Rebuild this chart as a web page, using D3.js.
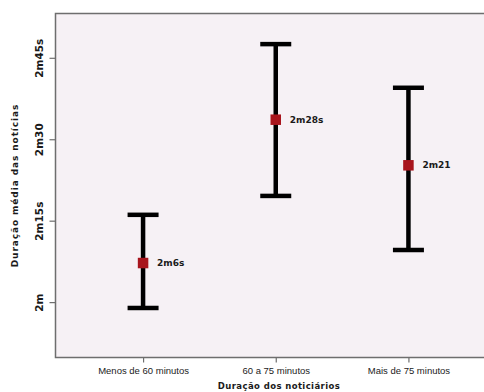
<!DOCTYPE html>
<html>
<head>
<meta charset="utf-8">
<script src="https://cdn.jsdelivr.net/npm/d3@7/dist/d3.min.js"></script>
<style>
  html, body { margin: 0; padding: 0; background: #ffffff; }
  svg { display: block; }
</style>
</head>
<body>
<script>
// Average news-item duration (seconds) by newscast length, with error bars
const categories = ["Menos de 60 minutos", "60 a 75 minutos", "Mais de 75 minutos"];
const means = [126, 148, 141];
const lower = [119.1, 136.3, 128.0];
const upper = [133.4, 159.6, 152.9];
const meanLabels = ["2m6s", "2m28s", "2m21"];
const yTickValues = [120, 132.5, 145, 157.5];
const yTickLabels = ["2m", "2m15s", "2m30", "2m45s"];

const W = 484, H = 392;
const plot = { left: 55.5, top: 13.5, right: 496, bottom: 357.5 };

const svg = d3.select("body").append("svg")
  .attr("width", W).attr("height", H);

const x = d3.scalePoint()
  .domain(categories)
  .range([plot.left, plot.right])
  .padding(0.66);

const y = d3.scaleLinear()
  .domain([111.5, 164.3])
  .range([plot.bottom, plot.top]);

// plot background and frame
svg.append("rect")
  .attr("x", plot.left).attr("y", plot.top)
  .attr("width", plot.right - plot.left).attr("height", plot.bottom - plot.top)
  .attr("fill", "#f6f1f5")
  .attr("stroke", "#6e6e6e").attr("stroke-width", 1.5);

// y axis
const yAxis = d3.axisLeft(y)
  .tickValues(yTickValues)
  .tickFormat((d, i) => yTickLabels[i])
  .tickSizeInner(6).tickSizeOuter(0);
const gy = svg.append("g").attr("transform", `translate(${plot.left},0)`).call(yAxis);
gy.select(".domain").remove();
gy.selectAll(".tick line").attr("stroke", "#6e6e6e").attr("stroke-width", 1.2);
gy.selectAll(".tick text")
  .attr("transform", "rotate(-90)")
  .attr("x", 0).attr("y", -13)
  .attr("dy", 0)
  .attr("text-anchor", "middle")
  .style("font-family", "DejaVu Sans")
  .style("font-size", "10.5px")
  .style("font-weight", "bold")
  .attr("fill", "#1a1a1a");

// x axis
const xAxis = d3.axisBottom(x)
  .tickSizeInner(5).tickSizeOuter(0).tickPadding(5);
const gx = svg.append("g").attr("transform", `translate(0,${plot.bottom})`).call(xAxis);
gx.select(".domain").remove();
gx.selectAll(".tick line").attr("stroke", "#6e6e6e").attr("stroke-width", 1.2);
gx.selectAll(".tick text")
  .style("font-family", "Liberation Sans")
  .style("font-size", "9.5px")
  .attr("fill", "#222");

// axis titles
svg.append("text")
  .attr("transform", `translate(15,${(plot.top + plot.bottom) / 2}) rotate(-90)`)
  .attr("text-anchor", "middle")
  .attr("dy", "0.35em")
  .style("font-family", "DejaVu Sans")
  .style("font-size", "9px")
  .style("font-weight", "bold")
  .style("letter-spacing", "0.9px")
  .attr("fill", "#1a1a1a")
  .text("Duração média das notícias");

svg.append("text")
  .attr("x", 279).attr("y", 389)
  .attr("text-anchor", "middle")
  .style("font-family", "DejaVu Sans")
  .style("font-size", "8.5px")
  .style("font-weight", "bold")
  .style("letter-spacing", "0.4px")
  .attr("fill", "#1a1a1a")
  .text("Duração dos noticiários");

// error bars
const capW = 31, barW = 4.5;
const rows = categories.map((c, i) => ({ c, mean: means[i], lo: lower[i], hi: upper[i], label: meanLabels[i] }));
const g = svg.append("g");
const eb = g.selectAll("g.eb").data(rows).join("g").attr("class", "eb");
eb.append("line")
  .attr("x1", d => x(d.c)).attr("x2", d => x(d.c))
  .attr("y1", d => y(d.hi)).attr("y2", d => y(d.lo))
  .attr("stroke", "#000").attr("stroke-width", barW);
eb.append("line")
  .attr("x1", d => x(d.c) - capW / 2).attr("x2", d => x(d.c) + capW / 2)
  .attr("y1", d => y(d.hi)).attr("y2", d => y(d.hi))
  .attr("stroke", "#000").attr("stroke-width", barW);
eb.append("line")
  .attr("x1", d => x(d.c) - capW / 2).attr("x2", d => x(d.c) + capW / 2)
  .attr("y1", d => y(d.lo)).attr("y2", d => y(d.lo))
  .attr("stroke", "#000").attr("stroke-width", barW);

// mean markers
const ms = 10.5;
eb.append("rect")
  .attr("x", d => x(d.c) - ms / 2).attr("y", d => y(d.mean) - ms / 2)
  .attr("width", ms).attr("height", ms)
  .attr("fill", "#a8151d");
eb.append("text")
  .attr("x", d => x(d.c) + 14).attr("y", d => y(d.mean))
  .attr("dy", "0.35em")
  .style("font-family", "DejaVu Sans")
  .style("font-size", "9px")
  .style("font-weight", "bold")
  .attr("fill", "#1a1a1a")
  .text(d => d.label);
</script>
</body>
</html>
